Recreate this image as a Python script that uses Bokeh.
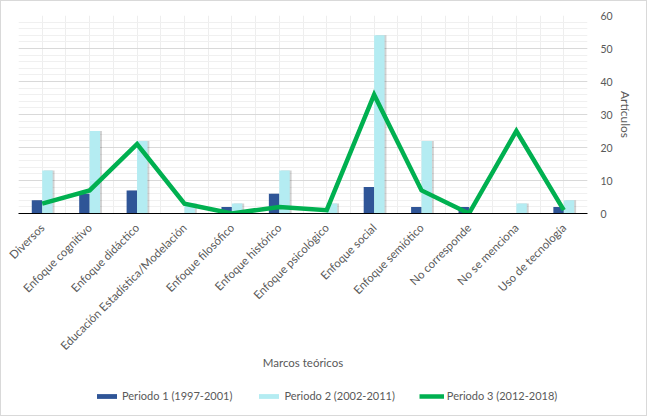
import numpy as np
from math import pi
from bokeh.plotting import figure
from bokeh.layouts import column
from bokeh.models import (FixedTicker, SingleIntervalTicker, Legend, LegendItem,
                          Range1d, ColumnDataSource)
from bokeh.embed import file_html
from bokeh.resources import INLINE

categories = ["Diversos", "Enfoque cognitivo", "Enfoque didáctico",
              "Educación Estadística/Modelación", "Enfoque filosófico",
              "Enfoque histórico", "Enfoque psicológico", "Enfoque social",
              "Enfoque semiótico", "No corresponde", "No se menciona",
              "Uso de tecnología"]
periodo1 = [4, 6, 7, 0, 2, 6, 0, 8, 2, 2, 0, 2]
periodo2 = [13, 25, 22, 3, 3, 13, 3, 54, 22, 0, 3, 4]
periodo3 = [3, 7, 21, 3, 0, 2, 1, 36, 7, 0, 25, 1]
series_names = ["Periodo 1 (1997-2001)", "Periodo 2 (2002-2011)", "Periodo 3 (2012-2018)"]
y_ticks = [0, 10, 20, 30, 40, 50, 60]

FONT = "Lato"
GRAY = "#595959"
C1, C2, C3 = "#2F5597", "#B4ECF2", "#00B050"

centers = np.arange(len(categories)) + 0.5
bw = 0.22
src = ColumnDataSource(dict(
    c=centers, x1=centers - bw / 2, x2=centers + bw / 2,
    s1=centers - bw / 2 + 0.04, s2=centers + bw / 2 + 0.04,
    p1=periodo1, p2=periodo2, p3=periodo3))

p = figure(width=645, height=370, output_backend="svg", toolbar_location=None,
           x_range=Range1d(0, 12), y_range=Range1d(0, 60),
           y_axis_location="right",
           min_border_left=17, min_border_right=59, min_border_top=14,
           min_border_bottom=158)
p.outline_line_color = None

# grids
p.ygrid.ticker = SingleIntervalTicker(interval=10, num_minor_ticks=5)
p.ygrid.grid_line_color = "#D9D9D9"
p.ygrid.minor_grid_line_color = "#F0F0F0"
p.xgrid.ticker = FixedTicker(ticks=list(np.arange(0, 12.01, 0.5)))
p.xgrid.grid_line_color = "#EEEEEE"

# shadows
p.vbar(x="s1", top="p1", width=bw, source=src, fill_color="black", fill_alpha=0.18, line_color=None)
p.vbar(x="s2", top="p2", width=bw, source=src, fill_color="black", fill_alpha=0.18, line_color=None)
r1 = p.vbar(x="x1", top="p1", width=bw, source=src, fill_color=C1, line_color=None)
r2 = p.vbar(x="x2", top="p2", width=bw, source=src, fill_color=C2, line_color=None)
r3 = p.line(x="c", y="p3", source=src, line_color=C3, line_width=4.5, line_join="miter")

# x axis
xa = p.xaxis[0]
xa.ticker = FixedTicker(ticks=list(centers))
xa.major_label_overrides = {float(c): n for c, n in zip(centers, categories)}
xa.major_label_orientation = pi / 4
xa.major_tick_line_color = None
xa.minor_tick_line_color = None
xa.axis_line_color = "black"
xa.major_label_text_font = FONT
xa.major_label_text_font_size = "11.5px"
xa.major_label_text_color = GRAY
xa.major_label_standoff = 6
xa.axis_label = "Marcos teóricos"
xa.axis_label_text_font = FONT
xa.axis_label_text_font_size = "11.5px"
xa.axis_label_text_font_style = "normal"
xa.axis_label_text_color = GRAY
xa.axis_label_standoff = -4

# y axis (right)
ya = p.yaxis[0]
ya.ticker = FixedTicker(ticks=y_ticks)
ya.axis_line_color = None
ya.major_tick_line_color = None
ya.minor_tick_line_color = None
ya.major_label_text_font = FONT
ya.major_label_text_font_size = "10.5px"
ya.major_label_text_color = GRAY
ya.major_label_standoff = 7
ya.axis_label = "Artículos"
ya.axis_label_text_font = FONT
ya.axis_label_text_font_size = "12px"
ya.axis_label_text_font_style = "normal"
ya.axis_label_text_color = GRAY
ya.axis_label_standoff = 2

# legend in its own strip
lf = figure(width=645, height=44, output_backend="svg", toolbar_location=None,
            x_range=Range1d(0, 1), y_range=Range1d(0, 1),
            x_axis_type=None, y_axis_type=None,
            min_border_left=0, min_border_right=0, min_border_top=0, min_border_bottom=0)
lf.outline_line_color = None
lf.xgrid.visible = False
lf.ygrid.visible = False
d1 = lf.vbar(x=[-10], top=[-10], width=0.1, fill_color=C1, line_color=None)
d2 = lf.vbar(x=[-10], top=[-10], width=0.1, fill_color=C2, line_color=None)
d3 = lf.line(x=[-10, -9], y=[-10, -10], line_color=C3, line_width=4.5)
legend = Legend(items=[LegendItem(label=series_names[0], renderers=[d1]),
                       LegendItem(label=series_names[1], renderers=[d2]),
                       LegendItem(label=series_names[2], renderers=[d3])],
                orientation="horizontal", location=(76, 13),
                glyph_width=25, glyph_height=6, label_standoff=3, spacing=24,
                padding=0, margin=0, border_line_color=None, background_fill_alpha=0,
                label_text_font=FONT, label_text_font_size="11px",
                label_text_color=GRAY)
lf.add_layout(legend, "center")

layout = column(p, lf, styles={"border": "1px solid #d9d9d9"})
open("out.html", "w").write(file_html(layout, INLINE))
